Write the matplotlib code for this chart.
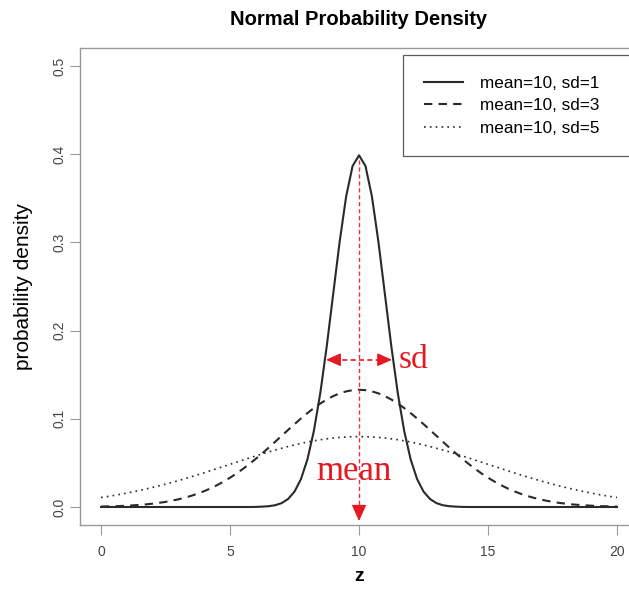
import numpy as np
import matplotlib
matplotlib.use("Agg")
import matplotlib.pyplot as plt

# z grid and densities (step 0.25)
z = np.arange(0, 20.25, 0.25)

dens_sd1 = [0.0000, 0.0000, 0.0000, 0.0000, 0.0000, 0.0000, 0.0000, 0.0000,
            0.0000, 0.0000, 0.0000, 0.0000, 0.0000, 0.0000, 0.0000, 0.0000,
            0.0000, 0.0000, 0.0000, 0.0000, 0.0000, 0.0000, 0.0000, 0.0000,
            0.0001, 0.0004, 0.0009, 0.0020, 0.0044, 0.0091, 0.0175, 0.0317,
            0.0540, 0.0863, 0.1295, 0.1826, 0.2420, 0.3011, 0.3521, 0.3867,
            0.3989,
            0.3867, 0.3521, 0.3011, 0.2420, 0.1826, 0.1295, 0.0863, 0.0540,
            0.0317, 0.0175, 0.0091, 0.0044, 0.0020, 0.0009, 0.0004, 0.0001,
            0.0000, 0.0000, 0.0000, 0.0000, 0.0000, 0.0000, 0.0000, 0.0000,
            0.0000, 0.0000, 0.0000, 0.0000, 0.0000, 0.0000, 0.0000, 0.0000,
            0.0000, 0.0000, 0.0000, 0.0000, 0.0000, 0.0000, 0.0000, 0.0000]
dens_sd3 = [0.0005, 0.0007, 0.0009, 0.0011, 0.0015, 0.0019, 0.0024, 0.0030,
            0.0038, 0.0047, 0.0058, 0.0072, 0.0087, 0.0106, 0.0127, 0.0152,
            0.0180, 0.0212, 0.0248, 0.0288, 0.0332, 0.0380, 0.0432, 0.0488,
            0.0547, 0.0609, 0.0673, 0.0740, 0.0807, 0.0874, 0.0940, 0.1004,
            0.1065, 0.1122, 0.1174, 0.1219, 0.1258, 0.1289, 0.1311, 0.1325,
            0.1330,
            0.1325, 0.1311, 0.1289, 0.1258, 0.1219, 0.1174, 0.1122, 0.1065,
            0.1004, 0.0940, 0.0874, 0.0807, 0.0740, 0.0673, 0.0609, 0.0547,
            0.0488, 0.0432, 0.0380, 0.0332, 0.0288, 0.0248, 0.0212, 0.0180,
            0.0152, 0.0127, 0.0106, 0.0087, 0.0072, 0.0058, 0.0047, 0.0038,
            0.0030, 0.0024, 0.0019, 0.0015, 0.0011, 0.0009, 0.0007, 0.0005]
dens_sd5 = [0.0108, 0.0119, 0.0131, 0.0144, 0.0158, 0.0173, 0.0188, 0.0205,
            0.0222, 0.0240, 0.0259, 0.0279, 0.0299, 0.0321, 0.0343, 0.0365,
            0.0388, 0.0412, 0.0436, 0.0460, 0.0484, 0.0508, 0.0532, 0.0556,
            0.0579, 0.0602, 0.0625, 0.0646, 0.0666, 0.0686, 0.0704, 0.0721,
            0.0737, 0.0750, 0.0763, 0.0773, 0.0782, 0.0789, 0.0794, 0.0797,
            0.0798,
            0.0797, 0.0794, 0.0789, 0.0782, 0.0773, 0.0763, 0.0750, 0.0737,
            0.0721, 0.0704, 0.0686, 0.0666, 0.0646, 0.0625, 0.0602, 0.0579,
            0.0556, 0.0532, 0.0508, 0.0484, 0.0460, 0.0436, 0.0412, 0.0388,
            0.0365, 0.0343, 0.0321, 0.0299, 0.0279, 0.0259, 0.0240, 0.0222,
            0.0205, 0.0188, 0.0173, 0.0158, 0.0144, 0.0131, 0.0119, 0.0108]

labels = ["mean=10, sd=1", "mean=10, sd=3", "mean=10, sd=5"]
xticks = [0, 5, 10, 15, 20]
yticks = [0.0, 0.1, 0.2, 0.3, 0.4, 0.5]

# annotation values
mean_val = 10
mean_top = 0.393
sd_y = 0.167
sd_left, sd_right = 8.72, 11.28

plt.rcParams["font.family"] = ["Liberation Sans", "DejaVu Sans"]
red = "#e41a22"
grey = "#2a2a2a"

fig = plt.figure(figsize=(6.29, 5.9), dpi=100)
ax = fig.add_axes([0.1278, 0.1108, 0.886, 0.807])

ax.plot(z, dens_sd1, color=grey, lw=1.5, label=labels[0])
ax.plot(z, dens_sd3, color=grey, lw=1.5, ls=(0, (4, 3)), label=labels[1])
ax.plot(z, dens_sd5, color=grey, lw=1.2, ls=(0, (1, 2.5)), label=labels[2])

# red mean arrow
ax.plot([mean_val, mean_val], [mean_top, -0.005], color="#e8304a", lw=1.0,
        ls=(0, (3, 2)))
ax.annotate("", xy=(mean_val, -0.016), xytext=(mean_val, 0.0),
            arrowprops=dict(arrowstyle="-|>,head_length=1.0,head_width=0.45",
                            color=red, lw=1.0, shrinkA=0, shrinkB=0))
# red sd double arrow
ax.plot([sd_left + 0.3, sd_right - 0.3], [sd_y, sd_y], color=red, lw=1.2,
        ls=(0, (3, 2)))
ax.annotate("", xy=(sd_left, sd_y), xytext=(sd_left + 0.35, sd_y),
            arrowprops=dict(arrowstyle="-|>,head_length=0.9,head_width=0.4",
                            color=red, lw=1.0, shrinkA=0, shrinkB=0))
ax.annotate("", xy=(sd_right, sd_y), xytext=(sd_right - 0.35, sd_y),
            arrowprops=dict(arrowstyle="-|>,head_length=0.9,head_width=0.4",
                            color=red, lw=1.0, shrinkA=0, shrinkB=0))
ax.text(11.55, 0.158, "sd", color=red, fontsize=24,
        family=["Liberation Serif", "DejaVu Serif"], va="baseline")
ax.text(8.35, 0.031, "mean", color=red, fontsize=25,
        family=["Liberation Serif", "DejaVu Serif"], va="baseline")

ax.set_xlim(-0.8, 20.8)
ax.set_ylim(-0.02, 0.52)
ax.set_xticks(xticks)
ax.set_xticklabels([str(t) for t in xticks])
ax.set_yticks(yticks)
ax.set_yticklabels(["%.1f" % t for t in yticks], rotation=90, va="center")
ax.tick_params(direction="out", length=7, color="#999999",
               labelcolor="#444444", labelsize=10)
ax.tick_params(axis="x", pad=8)
ax.tick_params(axis="y", pad=3)
for s in ax.spines.values():
    s.set_color("#999999")
    s.set_linewidth(1.0)

ax.set_title("Normal Probability Density", fontsize=14.5, fontweight="bold",
             pad=17)
ax.set_xlabel("z", fontsize=14, fontweight="bold", labelpad=6)
ax.set_ylabel("probability density", fontsize=15, labelpad=14)

leg = ax.legend(loc="upper left",
                bbox_to_anchor=(403 / 629, 1 - 55 / 590, 240 / 629, 0),
                bbox_transform=fig.transFigure, mode="expand",
                fontsize=12.3, frameon=True, fancybox=False, borderpad=1.2,
                handlelength=2.3, handletextpad=1.0, labelspacing=0.45,
                borderaxespad=0)
leg.get_frame().set_edgecolor("#333333")
leg.get_frame().set_linewidth(0.9)

fig.savefig("out.png", dpi=100)
